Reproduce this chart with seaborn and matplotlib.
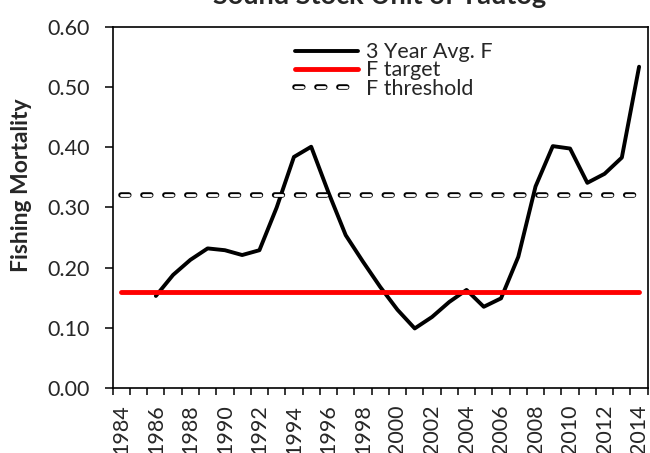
"""F promedio de 3 años contra puntos de referencia (target / threshold)."""

import matplotlib.pyplot as plt
import matplotlib.patheffects as pe
from matplotlib.lines import Line2D
from matplotlib.ticker import FixedLocator, FormatStrFormatter
import seaborn as sns

# ---------------------------------------------------------------------------
# Datos
# ---------------------------------------------------------------------------

years = list(range(1986, 2015))
avg_f = [
    0.153, 0.188, 0.213, 0.232, 0.229, 0.221, 0.229, 0.300, 0.384, 0.401,
    0.325, 0.254, 0.210, 0.168, 0.130, 0.099, 0.118, 0.143, 0.163, 0.135,
    0.149, 0.218, 0.335, 0.402, 0.398, 0.341, 0.356, 0.383, 0.534,
]

ref_years = list(range(1984, 2015))
f_target = [0.16] * len(ref_years)
f_threshold = [0.32] * len(ref_years)

year_labels = [str(y) for y in range(1984, 2015, 2)]

title = "Sound Stock Unit of Tautog"
ylabel = "Fishing Mortality"
series_labels = ["3 Year Avg. F", "F target", "F threshold"]

# ---------------------------------------------------------------------------
# Estilo
# ---------------------------------------------------------------------------

sns.set_theme(style="ticks")
plt.rcParams["font.family"] = ["Lato", "DejaVu Sans"]
plt.rcParams["lines.scale_dashes"] = False

W, H = 650, 453
fig = plt.figure(figsize=(W / 100, H / 100), dpi=100)
ax = fig.add_axes([0.1734, 0.1435, 0.8231, 0.7969])

DASH = (0, (5.6, 10.2))
outline = [pe.Stroke(linewidth=4.0, foreground="black"), pe.Normal()]

sns.lineplot(x=years, y=avg_f, ax=ax, color="black", linewidth=2.8, zorder=3)
sns.lineplot(x=ref_years, y=f_target, ax=ax, color="#ff0000", linewidth=3.5,
             solid_capstyle="round", zorder=4)
sns.lineplot(x=ref_years, y=f_threshold, ax=ax, color="white", linewidth=2.0,
             linestyle=DASH, dash_capstyle="round", zorder=5)
ax.lines[-1].set_path_effects(outline)

# Leyenda con handles explícitos
handles = [
    Line2D([], [], color="black", linewidth=2.8),
    Line2D([], [], color="#ff0000", linewidth=3.5, solid_capstyle="round"),
    Line2D([], [], color="white", linewidth=2.0, linestyle=(0, (5.6, 10.2)),
           dash_capstyle="round", path_effects=outline),
]
ax.legend(handles, series_labels, loc="upper left",
          bbox_to_anchor=(0.3407, 0.958), frameon=False,
          fontsize=15.5, handlelength=2.95, handletextpad=0.35,
          labelspacing=-0.08, borderaxespad=0.0, borderpad=0.0)

# Ejes
ax.set_xlim(1983.5, 2014.5)
ax.set_ylim(0, 0.6)
ax.yaxis.set_major_locator(FixedLocator([i / 10 for i in range(7)]))
ax.yaxis.set_major_formatter(FormatStrFormatter("%.2f"))

ax.xaxis.set_major_locator(FixedLocator([y - 0.5 for y in range(1984, 2016)]))
ax.xaxis.set_minor_locator(FixedLocator(list(range(1984, 2015, 2))))
ax.set_xticklabels([], minor=False)
ax.set_xticklabels(year_labels, minor=True, rotation=90)
ax.tick_params(axis="x", which="major", length=5.2, width=1.1, color="black")
ax.tick_params(axis="x", which="minor", length=0, pad=12, labelsize=15.5)
ax.tick_params(axis="y", length=5.5, width=1.1, color="black", labelsize=15.5, pad=11)

for side in ["left", "right", "top", "bottom"]:
    ax.spines[side].set_visible(True)
    ax.spines[side].set_color("black")
    ax.spines[side].set_linewidth(1.2)

ax.set_xlabel("")
ax.set_ylabel("")
fig.text(22 / W, 1 - 185 / H, ylabel, rotation=90, ha="center", va="center",
         fontsize=16.5, fontweight="bold")

fig.text(380 / W, 1 - 4 / H, title, ha="center", va="baseline",
         fontsize=19.5, fontweight="bold")

fig.savefig("out.png", dpi=100)
